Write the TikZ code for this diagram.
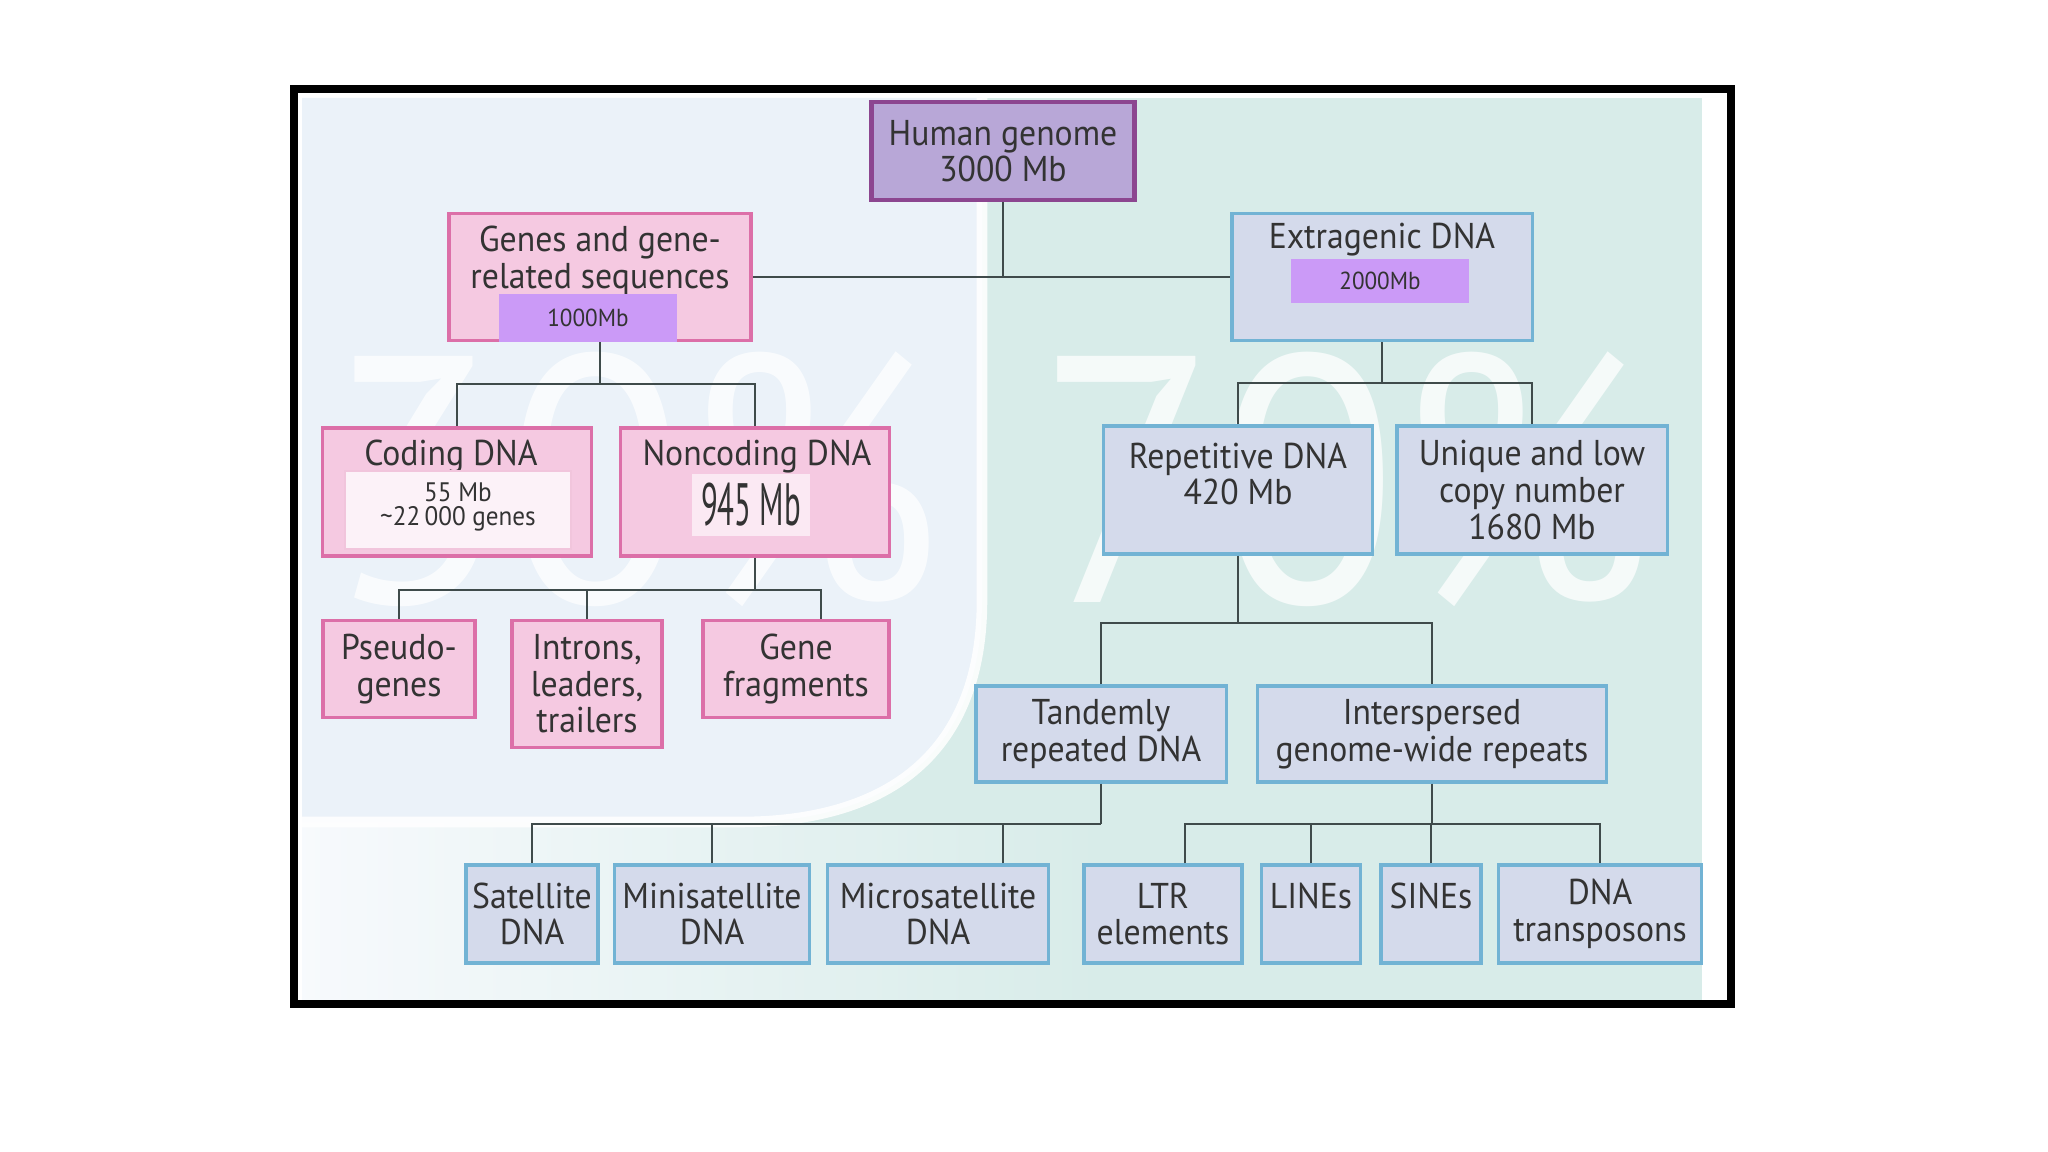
\documentclass[tikz,border=0pt]{standalone}
\usepackage{fontspec}
\setmainfont{PT Sans}[FakeStretch=0.94]
\usetikzlibrary{calc}

\definecolor{bgleft}{HTML}{EBF2F9}
\definecolor{bgteal}{HTML}{D8ECE9}
\definecolor{pinkfill}{HTML}{F5C9E1}
\definecolor{pinkline}{HTML}{DC6FA8}
\definecolor{bluefill}{HTML}{D4DAEB}
\definecolor{blueline}{HTML}{72B3D4}
\definecolor{topfill}{HTML}{B8A7D7}
\definecolor{topline}{HTML}{8C4690}
\definecolor{mbfill}{HTML}{CB9AF7}
\definecolor{linkgray}{HTML}{3F4B4B}
\definecolor{txtgray}{HTML}{333333}

\begin{document}
\begin{tikzpicture}[x=0.01cm, y=-0.01cm,
  every node/.style={font=\fontsize{10.2}{10.4}\selectfont, text=txtgray, align=center},
  pinkbox/.style={draw=pinkline, fill=pinkfill, line width=1pt, inner sep=0pt},
  bluebox/.style={draw=blueline, fill=bluefill, line width=0.9pt, inner sep=0pt},
  topbox/.style={draw=topline, fill=topfill, line width=1.4pt, inner sep=0pt},
  mbbox/.style={fill=mbfill, inner sep=0pt, font=\fontsize{7}{7}\selectfont},
  link/.style={draw=linkgray, line width=0.8pt},
  wm/.style={text=white, opacity=0.75, font=\fontsize{100}{100}\selectfont}]

  \useasboundingbox (0,0) rectangle (2048,1152);

  % =========================
  % background
  % =========================
  \fill[bgteal] (302,98) rectangle (1702,1000);
  \shade[left color=bgleft!40!white, right color=bgteal] (302,822) rectangle (1100,1000);
  \fill[bgleft] (302,98) -- (982,98) -- (982,600)
    .. controls (982,760) and (880,822) .. (740,822) -- (302,822) -- cycle;
  \draw[white, line width=3pt, opacity=0.85] (982,98) -- (982,600)
    .. controls (982,760) and (880,822) .. (740,822) -- (302,822);

  % percent watermarks
  \node[wm, anchor=base] (wm30) at (633,603) {30\%};
  \node[wm, anchor=base] (wm70) at (1345,603) {70\%};

  % =========================
  % top levels
  % =========================
  \node[topbox, minimum width=2.62cm, minimum height=0.98cm] (human) at (1003,151)
    {Human genome\\3000 Mb};

  \node[pinkbox, minimum width=3.02cm, minimum height=1.27cm] (genes) at (600,277) {};
  \node (genestxt) at (600,261) {Genes and gene-\\related sequences};
  \node[mbbox, minimum width=1.77cm, minimum height=0.47cm] (mbgenes) at (588,318) {1000Mb};

  \node[bluebox, minimum width=3.00cm, minimum height=1.27cm] (extra) at (1382,277) {};
  \node (extratxt) at (1382,240) {Extragenic DNA};
  \node[mbbox, minimum width=1.77cm, minimum height=0.44cm] (mbextra) at (1380,281) {2000Mb};

  % =========================
  % genic branch
  % =========================
  \node[pinkbox, minimum width=2.69cm, minimum height=1.28cm] (coding) at (457,492) {};
  \node (codtxt) at (451,457) {Coding DNA};
  \node[draw=pinkline!40, fill=white!75!pinkfill, line width=0.6pt,
        minimum width=2.25cm, minimum height=0.72cm,
        font=\fontsize{7.6}{6.8}\selectfont] (codsize) at (458,510)
    {55 Mb\\\textasciitilde 22\,000 genes\\[-0.12cm]};

  \node[pinkbox, minimum width=2.69cm, minimum height=1.28cm] (noncoding) at (755,492) {};
  \node (nctxt) at (757,457) {Noncoding DNA};
  \node[fill=white!60!pinkfill, minimum width=1.18cm, minimum height=0.61cm, inner sep=0pt,
        font=\fontsize{17}{17}\selectfont] (ncsize) at (751,505)
    {\scalebox{0.55}[1]{945 Mb}};

  \node[pinkbox, minimum width=1.52cm, minimum height=0.97cm] (pseudo) at (399,669)
    {Pseudo-\\genes};
  \node[pinkbox, minimum width=1.50cm, minimum height=1.27cm] (introns) at (587,684)
    {Introns,\\leaders,\\trailers};
  \node[pinkbox, minimum width=1.86cm, minimum height=0.97cm] (genefrag) at (796,669)
    {Gene\\fragments};

  % =========================
  % extragenic branch
  % =========================
  \node[bluebox, minimum width=2.69cm, minimum height=1.28cm] (repet) at (1238,490) {};
  \node (repettxt) at (1238,474) {Repetitive DNA\\420 Mb};
  \node[bluebox, minimum width=2.70cm, minimum height=1.28cm] (unique) at (1532,490)
    {Unique and low\\copy number\\1680 Mb};

  \node[bluebox, minimum width=2.50cm, minimum height=0.96cm] (tandem) at (1101,734)
    {Tandemly\\repeated DNA};
  \node[bluebox, minimum width=3.49cm, minimum height=0.96cm] (inters) at (1432,734)
    {Interspersed\\genome-wide repeats};

  % bottom row
  \foreach \nm/\x/\w/\txt in {satel/532/1.32/{Satellite\\DNA},
      minisat/712/1.95/{Minisatellite\\DNA}, microsat/938/2.21/{Microsatellite\\DNA},
      ltr/1163/1.58/{LTR\\elements}, lines/1311/0.99/{LINEs\\\phantom{DNA}},
      sines/1431/1.00/{SINEs\\\phantom{DNA}}, dnatrans/1600/2.03/{DNA\\transposons}}{
    \node[bluebox, minimum width=\w cm, minimum height=0.98cm] (\nm) at (\x,914) {\txt};
  }

  % =========================
  % connectors
  % =========================
  \coordinate (busA) at (0,384);
  \coordinate (busB) at (0,383);
  \coordinate (busC) at (0,590);
  \coordinate (busD) at (0,623);
  \coordinate (busE) at (0,824);
  \coordinate (gfin) at ([xshift=0.25cm]genefrag.north);
  \coordinate (msin) at ([xshift=0.65cm]microsat.north);
  \coordinate (ltrin) at ([xshift=0.22cm]ltr.north);

  \draw[link] (human.south) -- (human.south |- genes.east);
  \draw[link] (genes.east) -- (extra.west);

  \draw[link] (genes.south) -- (genes.south |- busA);
  \draw[link] (coding.north) |- (busA -| noncoding.north) -- (noncoding.north);

  \draw[link] (extra.south) -- (extra.south |- busB);
  \draw[link] (repet.north) |- (busB -| unique.north) -- (unique.north);

  \draw[link] (noncoding.south) -- (noncoding.south |- busC);
  \draw[link] (pseudo.north) |- (busC -| gfin) -- (gfin);
  \draw[link] (introns.north) -- (introns.north |- busC);

  \draw[link] (repet.south) -- (repet.south |- busD);
  \draw[link] (tandem.north) |- (busD -| inters.north) -- (inters.north);

  \draw[link] (tandem.south) -- (tandem.south |- busE);
  \draw[link] (satel.north) |- (busE -| tandem.south);
  \draw[link] (minisat.north) -- (minisat.north |- busE);
  \draw[link] (msin) -- (msin |- busE);

  \draw[link] (inters.south) -- (inters.south |- busE);
  \draw[link] (ltrin) |- (busE -| dnatrans.north) -- (dnatrans.north);
  \draw[link] (lines.north) -- (lines.north |- busE);
  \draw[link] (sines.north) -- (sines.north |- busE);

  % frame
  \draw[line width=2.2pt] (294,89) rectangle (1731,1004);

\end{tikzpicture}
\end{document}
